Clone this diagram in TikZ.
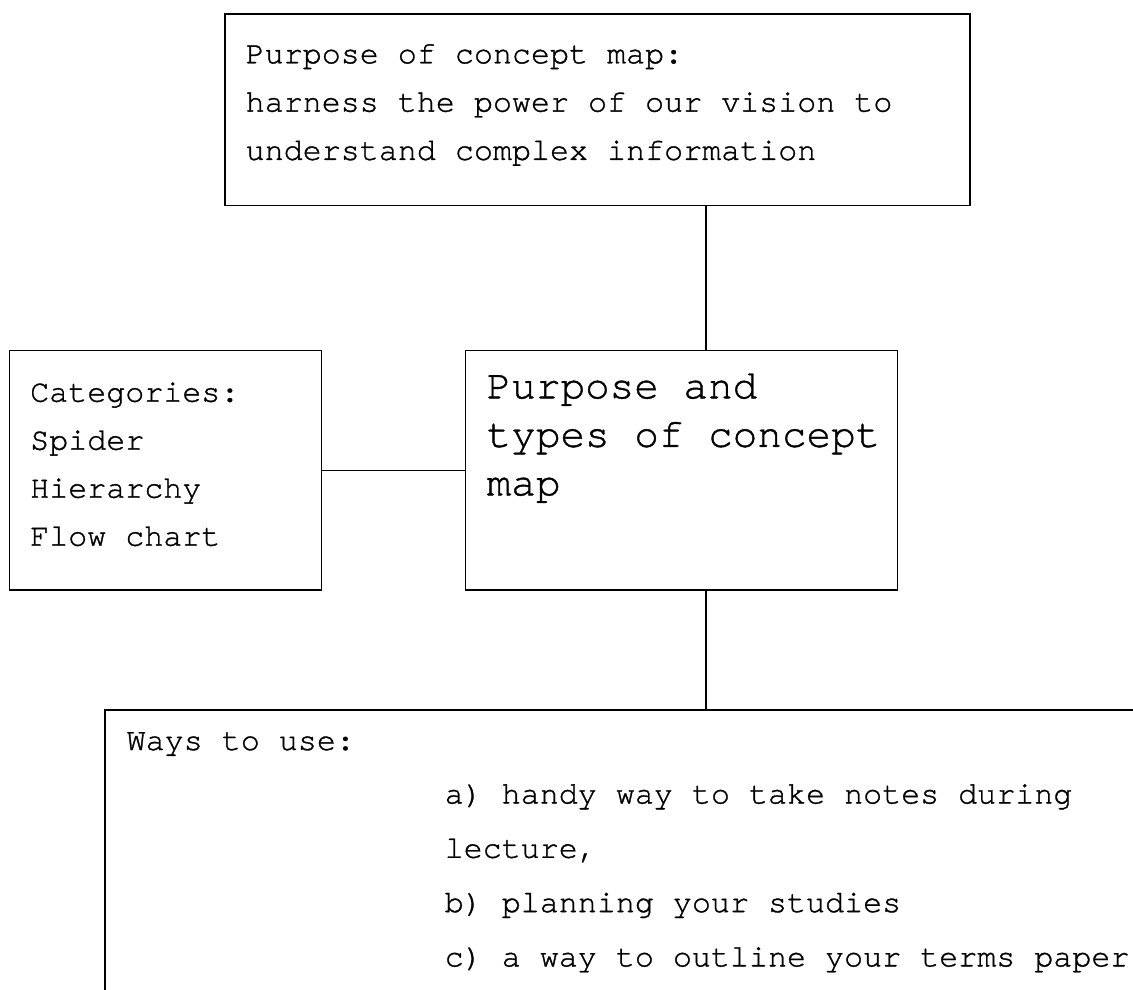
\documentclass[tikz,border=0pt]{standalone}
\usepackage{fontspec}
\setmonofont{TeX Gyre Cursor}[FakeBold=1]
\usetikzlibrary{shapes}
\newcommand{\boxfont}[2]{\ttfamily\fontsize{#1}{#2}\selectfont}

\begin{document}
\begin{tikzpicture}[x=1pt,y=-1pt,line width=1.4pt]
	\tikzstyle{box}=[rectangle,draw,inner sep=0pt]
	\tikzstyle{txt}=[anchor=base west,inner sep=0pt,text width=700pt,font=\boxfont{31.7}{48.3},
		execute at begin node={\parindent=0pt\spaceskip=0.6em plus 0pt minus 0pt\xspaceskip=0.6em\relax}]
	\tikzstyle{bigtxt}=[txt,font=\boxfont{41}{48.5}]
	\clip (0,0) rectangle (1133,990);

	% boxes
	\node[box,minimum width=745pt,minimum height=191.5pt] (purpose) at (597.5,109.75) {};
	\node[box,minimum width=312.4pt,minimum height=239.5pt] (cat) at (165.5,470.25) {};
	\node[box,minimum width=432pt,minimum height=239.5pt] (ctr) at (681.7,470.25) {};
	\node[box,minimum width=1055pt,minimum height=300pt] (use) at (632.5,860) {};

	% texts
	\node[txt] (purposetext) at (245,63.3) {Purpose of concept map:\\harness the power of our vision to\\understand complex information};
	\node[txt,font=\boxfont{31.7}{48}] (cattext) at (29.5,401.7) {Categories:\\Spider\\Hierarchy\\Flow chart};
	\node[bigtxt] (ctrtext) at (486,398.3) {Purpose and\\types of concept\\map};
	\node[txt] (usehead) at (126,750) {Ways to use:};
	\node[txt,font=\boxfont{31.7}{54.3}] (uselist) at (444,803.5) {a) handy way to take notes during\\lecture,\\b) planning your studies\\c) a way to outline your terms paper};

	% connectors
	\coordinate (spine) at (706,0);
	\draw (purpose.south -| spine) -- (ctr.north -| spine);
	\draw (cat.east) -- (ctr.west);
	\draw (ctr.south -| spine) -- (use.north -| spine);
\end{tikzpicture}
\end{document}
